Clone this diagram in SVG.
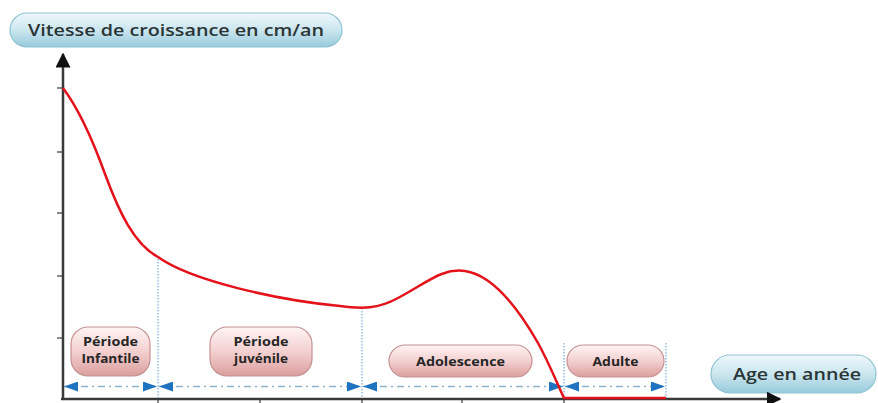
<svg xmlns="http://www.w3.org/2000/svg" width="878" height="403" viewBox="0 0 878 403">
  <defs>
    <linearGradient id="gBlue" x1="0" y1="0" x2="0" y2="1">
      <stop offset="0" stop-color="#eef8fb"/>
      <stop offset="0.5" stop-color="#cbe6ef"/>
      <stop offset="1" stop-color="#98cbdc"/>
    </linearGradient>
    <linearGradient id="gPink" x1="0" y1="0" x2="0" y2="1">
      <stop offset="0" stop-color="#fff4f4"/>
      <stop offset="0.5" stop-color="#f3d0d0"/>
      <stop offset="1" stop-color="#dc9e9e"/>
    </linearGradient>
    <marker id="axisArrow" viewBox="0 0 10 10" refX="9" refY="5" markerWidth="6" markerHeight="6" markerUnits="strokeWidth" orient="auto">
      <path d="M0,0 L10,5 L0,10 Z" fill="#111"/>
    </marker>
    <marker id="blueArrow" viewBox="0 0 14 10" refX="14" refY="5" markerWidth="14" markerHeight="10" markerUnits="userSpaceOnUse" orient="auto-start-reverse">
      <path d="M0,0 L14,5 L0,10 Z" fill="#1f72bd"/>
    </marker>
  </defs>
  <style>
    .axis { stroke: #3a3a3a; stroke-width: 2.5; fill: none; }
    .tick { stroke: #3a3a3a; stroke-width: 1.2; }
    .curve { stroke: #e3121b; stroke-width: 2.5; fill: none; stroke-linejoin: round; }
    .vline { stroke: #5d9bd3; stroke-width: 1; stroke-dasharray: 1.5 1.5; fill: none; }
    .span { stroke: #8cb2cc; stroke-width: 1.6; stroke-dasharray: 7 4 2 4; fill: none; marker-start: url(#blueArrow); marker-end: url(#blueArrow); }
    .pillBlue { fill: url(#gBlue); stroke: #8fc3d3; stroke-width: 1.2; }
    .pillPink { fill: url(#gPink); stroke: #c49292; stroke-width: 1.2; }
    .hdr { font-family: "Open Sans", "Liberation Sans", sans-serif; font-weight: 600; fill: #2b3535; }
    .lbl { font-family: "Open Sans", "Liberation Sans", sans-serif; font-weight: 700; font-size: 12px; fill: #262626; text-anchor: middle; }
  </style>

  <!-- header pills -->
  <g id="y-axis-title">
    <rect class="pillBlue" x="10" y="13" width="332" height="34" rx="17"/>
    <text class="hdr" x="176" y="36" font-size="16" text-anchor="middle" textLength="296" lengthAdjust="spacingAndGlyphs">Vitesse de croissance en cm/an</text>
  </g>
  <g id="x-axis-title">
    <rect class="pillBlue" x="711" y="355" width="165" height="38" rx="19"/>
    <text class="hdr" x="797" y="380" font-size="17" text-anchor="middle" textLength="128" lengthAdjust="spacingAndGlyphs">Age en année</text>
  </g>

  <!-- axes -->
  <g id="axes">
    <line class="axis" x1="63" y1="400" x2="63" y2="54" marker-end="url(#axisArrow)"/>
    <line class="axis" x1="61" y1="399" x2="780" y2="399" marker-end="url(#axisArrow)"/>
    <line class="tick" x1="57" y1="88" x2="63" y2="88"/>
    <line class="tick" x1="57" y1="152" x2="63" y2="152"/>
    <line class="tick" x1="57" y1="213" x2="63" y2="213"/>
    <line class="tick" x1="57" y1="276" x2="63" y2="276"/>
    <line class="tick" x1="57" y1="338" x2="63" y2="338"/>
    <line class="tick" x1="158" y1="399" x2="158" y2="403"/>
    <line class="tick" x1="260" y1="399" x2="260" y2="403"/>
    <line class="tick" x1="362" y1="399" x2="362" y2="403"/>
    <line class="tick" x1="462" y1="399" x2="462" y2="403"/>
    <line class="tick" x1="564" y1="399" x2="564" y2="403"/>
  </g>

  <!-- connectors: period boundaries and spans -->
  <g id="connectors">
    <line class="vline" x1="158" y1="256" x2="158" y2="398"/>
    <line class="vline" x1="362" y1="308" x2="362" y2="398"/>
    <line class="vline" x1="564" y1="343" x2="564" y2="398"/>
    <line class="vline" x1="666" y1="343" x2="666" y2="398"/>
    <line class="span" x1="64" y1="386.5" x2="157" y2="386.5"/>
    <line class="span" x1="159" y1="386.5" x2="361" y2="386.5"/>
    <line class="span" x1="363" y1="386.5" x2="563" y2="386.5"/>
    <line class="span" x1="565" y1="386.5" x2="665" y2="386.5"/>
  </g>

  <!-- growth curve -->
  <g id="curve">
    <path class="curve" d="M63,88 C78,108 92,138 105,174 C119,212 134,244 158,257 C190,280 275,300 340,306 C362,309 378,309 398,298 C428,282 442,268 465,271 C493,275 518,308 538,343 C549,363 557,383 564,398 L666,398"/>
  </g>

  <!-- period labels -->
  <g id="periode-infantile">
    <rect class="pillPink" x="71" y="327" width="79" height="49" rx="17"/>
    <text class="lbl" x="110.5" y="346" textLength="55" lengthAdjust="spacingAndGlyphs">Période</text>
    <text class="lbl" x="110.5" y="363" textLength="58" lengthAdjust="spacingAndGlyphs">Infantile</text>
  </g>
  <g id="periode-juvenile">
    <rect class="pillPink" x="210" y="327" width="102" height="49" rx="17"/>
    <text class="lbl" x="261" y="346" textLength="55" lengthAdjust="spacingAndGlyphs">Période</text>
    <text class="lbl" x="261" y="363" textLength="54" lengthAdjust="spacingAndGlyphs">juvénile</text>
  </g>
  <g id="adolescence">
    <rect class="pillPink" x="389" y="345" width="143" height="32" rx="16"/>
    <text class="lbl" x="460.5" y="365.5" textLength="89" lengthAdjust="spacingAndGlyphs">Adolescence</text>
  </g>
  <g id="adulte">
    <rect class="pillPink" x="567" y="345" width="97" height="32" rx="16"/>
    <text class="lbl" x="615.5" y="365.5" textLength="46" lengthAdjust="spacingAndGlyphs">Adulte</text>
  </g>
</svg>
